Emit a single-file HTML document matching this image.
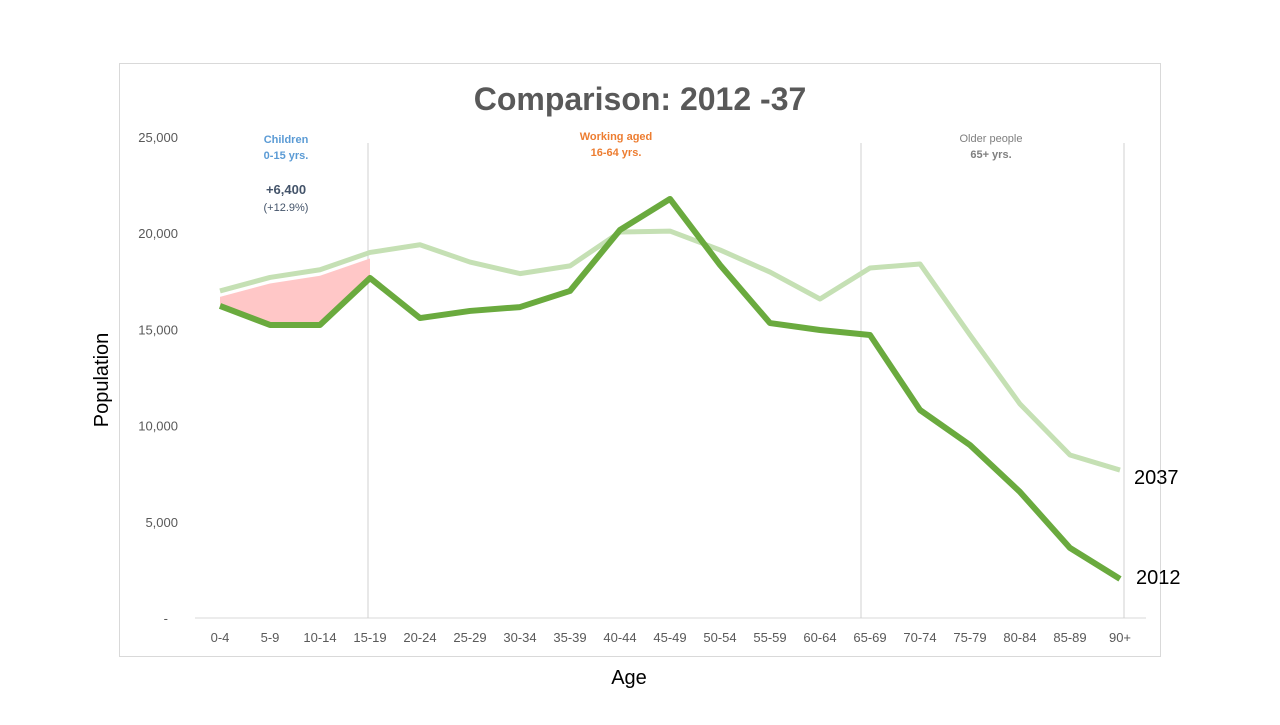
<!DOCTYPE html>
<html><head><meta charset="utf-8"><style>
body{margin:0;background:#fff;font-family:"Liberation Sans",sans-serif;}
svg text{font-family:"Liberation Sans",sans-serif;}
</style></head><body>
<svg id="chart" width="1280" height="720" xmlns="http://www.w3.org/2000/svg">
<rect x="119.5" y="63.5" width="1041" height="593" fill="#fff" stroke="#d9d9d9"/>
<text x="640" y="110" text-anchor="middle" font-size="32" font-weight="bold" fill="#595959">Comparison: 2012 -37</text>
<text transform="translate(108,380) rotate(-90)" text-anchor="middle" font-size="20" fill="#000">Population</text>
<text x="629" y="684" text-anchor="middle" font-size="20" fill="#000">Age</text>
<g id="grid"></g><g id="marks"></g><g id="labels"></g>
<text x="286" y="143" text-anchor="middle" font-size="11" font-weight="bold" fill="#5b9bd5">Children</text>
<text x="286" y="159" text-anchor="middle" font-size="11" font-weight="bold" fill="#5b9bd5">0-15 yrs.</text>
<text x="286" y="194" text-anchor="middle" font-size="13" font-weight="bold" fill="#44546a">+6,400</text>
<text x="286" y="211" text-anchor="middle" font-size="11" fill="#44546a">(+12.9%)</text>
<text x="616" y="140" text-anchor="middle" font-size="11" font-weight="bold" fill="#ed7d31">Working aged</text>
<text x="616" y="156" text-anchor="middle" font-size="11" font-weight="bold" fill="#ed7d31">16-64 yrs.</text>
<text x="991" y="142" text-anchor="middle" font-size="11" fill="#7f7f7f">Older people</text>
<text x="991" y="158" text-anchor="middle" font-size="11" font-weight="bold" fill="#7f7f7f">65+ yrs.</text>
</svg>
<script>
const categories=["0-4","5-9","10-14","15-19","20-24","25-29","30-34","35-39","40-44","45-49","50-54","55-59","60-64","65-69","70-74","75-79","80-84","85-89","90+"];
const pop2037=[17000,17700,18100,19000,19400,18500,17900,18300,20060,20110,19130,17980,16580,18190,18400,14710,11120,8470,7690];
const pop2012=[16220,15230,15230,17670,15590,15960,16160,17000,20170,21780,18350,15330,14970,14710,10810,8990,6550,3640,2030];
const yTicks=[0,5000,10000,15000,20000,25000];
const yTickLabels=["-","5,000","10,000","15,000","20,000","25,000"];
const dividers=[3,13,18];
const NS="http://www.w3.org/2000/svg";
const X=i=>220+i*50, Y=v=>618-v*481/25000;
function mk(tag,attrs,parent){const e=document.createElementNS(NS,tag);for(const k in attrs)e.setAttribute(k,attrs[k]);parent.appendChild(e);return e;}
const grid=document.getElementById('grid'),marks=document.getElementById('marks'),labels=document.getElementById('labels');
const base=mk('line',{x1:195,x2:1146,y1:Y(0),y2:Y(0),stroke:'#d9d9d9'},grid);


dividers.forEach(i=>{const l=mk('line',{x1:X(i)+(i==18?4:i==13?-9:-2),x2:X(i)+(i==18?4:i==13?-9:-2),y1:143,y2:Y(0),stroke:'#d0d0d0'},grid);

});
yTicks.forEach((v,i)=>{const t=mk('text',{x:i==0?168:178,y:Y(v)+5,'text-anchor':'end','font-size':13,fill:'#595959'},labels);t.textContent=yTickLabels[i];

});
categories.forEach((c,i)=>{const t=mk('text',{x:X(i),y:642,'text-anchor':'middle','font-size':13,fill:'#595959'},labels);t.textContent=c;

});
// fill children gap
let pts=[];for(let i=0;i<=3;i++)pts.push(X(i)+','+(Y(pop2037[i])+6));for(let i=3;i>=0;i--)pts.push(X(i)+','+Y(pop2012[i]));
const area=mk('polygon',{points:pts.join(' '),fill:'#ffc7c7'},marks);


const p37=mk('polyline',{points:pop2037.map((v,i)=>X(i)+','+Y(v)).join(' '),fill:'none',stroke:'#c5e0b4','stroke-width':5,'stroke-linejoin':'round'},marks);


const p12=mk('polyline',{points:pop2012.map((v,i)=>X(i)+','+Y(v)).join(' '),fill:'none',stroke:'#6aaa3e','stroke-width':6,'stroke-linejoin':'round'},marks);


const l37=mk('text',{x:1134,y:Y(pop2037[18])+14,'font-size':20,fill:'#000'},labels);l37.textContent='2037';


const l12=mk('text',{x:1136,y:Y(pop2012[18])+5,'font-size':20,fill:'#000'},labels);l12.textContent='2012';


</script>
</body></html>
